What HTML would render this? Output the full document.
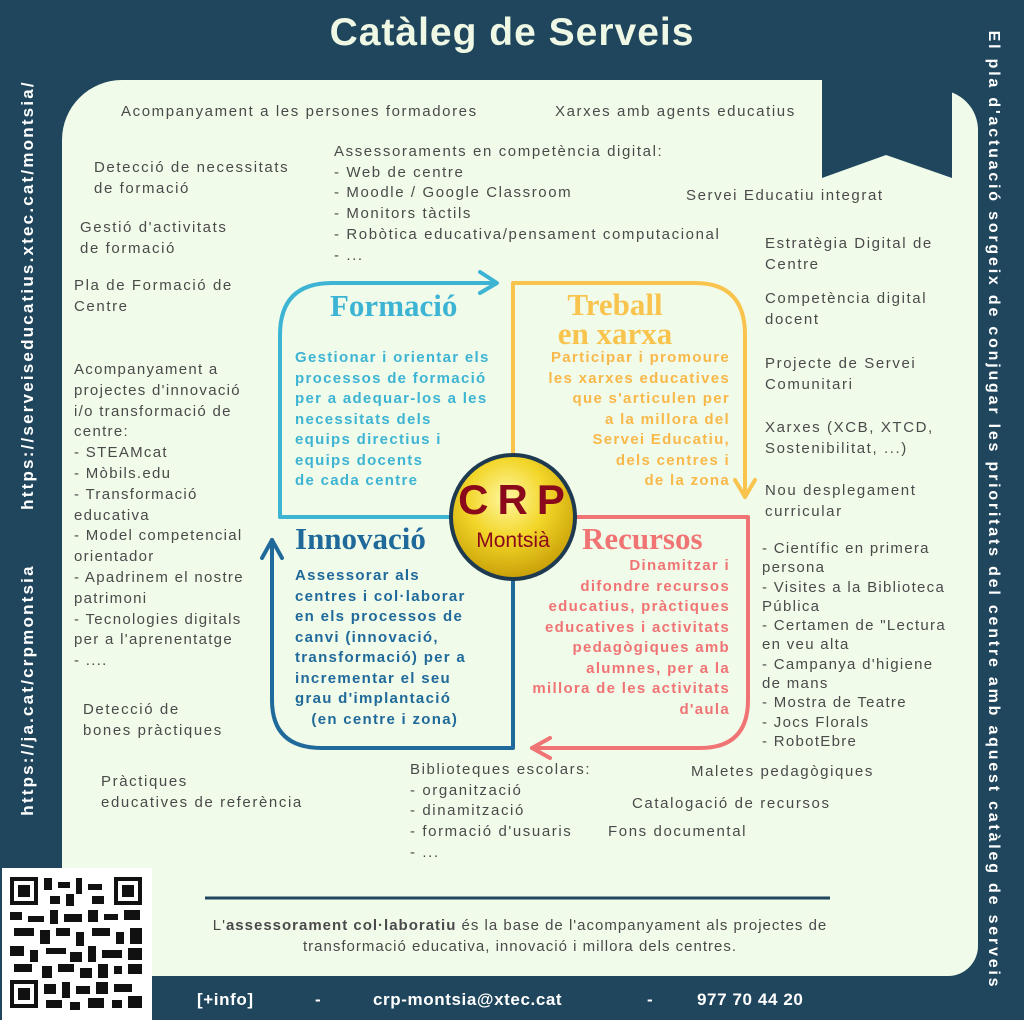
<!DOCTYPE html>
<html><head><meta charset="utf-8"><style>
*{margin:0;padding:0;box-sizing:border-box}
body{width:1024px;height:1020px;background:#1f465d;position:relative;overflow:hidden;font-family:"Liberation Sans",sans-serif}
.t{position:absolute;color:#4a4a4a;font-size:15px;letter-spacing:1.6px;line-height:20.7px;white-space:nowrap}
.h{position:absolute;font-family:"Liberation Serif",serif;font-weight:bold;font-size:31px;line-height:29px;white-space:nowrap}
.b{position:absolute;font-weight:bold;font-size:15px;line-height:20.5px;letter-spacing:1.3px;white-space:nowrap}
</style></head><body>
<div style="position:absolute;left:62px;top:80px;width:916px;height:896px;background:#f1fbea;border-radius:60px 0 30px 0"></div>
<div style="position:absolute;left:950px;top:80px;width:28px;height:60px;background:#1f465d"></div>
<div style="position:absolute;left:900px;top:90px;width:78px;height:80px;background:#f1fbea;border-radius:0 40px 0 0"></div>
<svg style="position:absolute;left:0;top:0" width="1024" height="1020">
<polygon points="822,78 952,78 952,178 886,155 822,178" fill="#1f465d"/>
<rect x="0" y="866" width="62" height="4" fill="#1f465d"/>
<rect x="2" y="868" width="150" height="152" fill="#fff"/>
<rect x="155" y="978" width="869" height="42" fill="#1f465d"/>
<g fill="#111">
<rect x="10" y="877" width="28" height="28"/><rect x="14" y="881" width="20" height="20" fill="#fff"/><rect x="18" y="885" width="12" height="12"/>
<rect x="114" y="877" width="28" height="28"/><rect x="118" y="881" width="20" height="20" fill="#fff"/><rect x="122" y="885" width="12" height="12"/>
<rect x="10" y="980" width="28" height="28"/><rect x="14" y="984" width="20" height="20" fill="#fff"/><rect x="18" y="988" width="12" height="12"/>
<rect x="44" y="878" width="8" height="12"/><rect x="58" y="882" width="12" height="6"/><rect x="76" y="878" width="6" height="16"/><rect x="88" y="884" width="14" height="6"/><rect x="50" y="896" width="10" height="8"/><rect x="66" y="894" width="8" height="12"/><rect x="92" y="896" width="12" height="8"/>
<rect x="10" y="912" width="12" height="8"/><rect x="28" y="916" width="16" height="6"/><rect x="50" y="910" width="8" height="14"/><rect x="64" y="914" width="18" height="8"/><rect x="88" y="910" width="10" height="12"/><rect x="104" y="914" width="14" height="6"/><rect x="124" y="910" width="16" height="10"/>
<rect x="14" y="928" width="20" height="8"/><rect x="40" y="930" width="10" height="14"/><rect x="56" y="928" width="14" height="8"/><rect x="76" y="932" width="8" height="14"/><rect x="92" y="928" width="18" height="8"/><rect x="116" y="932" width="8" height="12"/><rect x="130" y="928" width="12" height="16"/>
<rect x="10" y="946" width="14" height="10"/><rect x="30" y="950" width="8" height="12"/><rect x="46" y="948" width="20" height="6"/><rect x="70" y="952" width="12" height="10"/><rect x="88" y="946" width="8" height="16"/><rect x="102" y="950" width="20" height="8"/><rect x="128" y="948" width="14" height="12"/>
<rect x="14" y="964" width="18" height="8"/><rect x="42" y="966" width="10" height="12"/><rect x="58" y="964" width="16" height="8"/><rect x="80" y="968" width="12" height="10"/><rect x="98" y="964" width="10" height="14"/><rect x="114" y="966" width="8" height="8"/><rect x="128" y="964" width="14" height="10"/>
<rect x="44" y="984" width="12" height="10"/><rect x="62" y="982" width="8" height="16"/><rect x="76" y="986" width="14" height="8"/><rect x="96" y="982" width="12" height="12"/><rect x="114" y="984" width="18" height="8"/><rect x="46" y="1000" width="16" height="8"/><rect x="70" y="1002" width="10" height="8"/><rect x="88" y="998" width="16" height="10"/><rect x="112" y="1000" width="10" height="8"/><rect x="128" y="996" width="14" height="12"/>
</g>
<g fill="none" stroke-width="4" stroke-linecap="round" stroke-linejoin="round">
<path d="M455,517 H280 V335 Q280,283 332,283 H495" stroke="#3db4d3"/>
<path d="M480,272 L497,283 L480,293" stroke="#3db4d3"/>
<path d="M513,490 V283 H695 Q745,283 745,335 V497" stroke="#f8c44e"/>
<path d="M735,480 L745,497 L755,480" stroke="#f8c44e"/>
<path d="M575,517 H748 V700 Q748,748 700,748 H532" stroke="#f07474"/>
<path d="M550,738 L532,748 L550,758" stroke="#f07474"/>
<path d="M513,580 V748 H322 Q272,748 272,700 V540" stroke="#1f6a9a"/>
<path d="M262,558 L272,540 L282,558" stroke="#1f6a9a"/>
</g>
<line x1="205" y1="898" x2="830" y2="898" stroke="#1f465d" stroke-width="3"/>
<defs><radialGradient id="g" cx="45%" cy="35%" r="65%"><stop offset="0" stop-color="#fff7a0"/><stop offset="0.5" stop-color="#f2d628"/><stop offset="1" stop-color="#c9a008"/></radialGradient></defs>
<circle cx="513" cy="517" r="62" fill="url(#g)" stroke="#1e3a50" stroke-width="4"/>
<text x="516" y="514" text-anchor="middle" font-family="Liberation Sans" font-weight="bold" font-size="42" fill="#8a0a1c" letter-spacing="9">CRP</text>
<text x="513" y="547" text-anchor="middle" font-family="Liberation Sans" font-size="21" fill="#8a0a1c">Montsià</text>
<text transform="translate(33,295) rotate(-90)" text-anchor="middle" font-family="Liberation Sans" font-weight="bold" font-size="17" fill="#fff" letter-spacing="2.2">https://serveiseducatius.xtec.cat/montsia/</text>
<text transform="translate(33,690) rotate(-90)" text-anchor="middle" font-family="Liberation Sans" font-weight="bold" font-size="17" fill="#fff" letter-spacing="2.2">https://ja.cat/crpmontsia</text>
<text transform="translate(989,510) rotate(90)" text-anchor="middle" font-family="Liberation Sans" font-weight="bold" font-size="16" fill="#fff" letter-spacing="2.8">El pla d'actuació sorgeix de conjugar les prioritats del centre amb aquest catàleg de serveis</text>
</svg>
<div style="position:absolute;left:0;width:1024px;top:11px;text-align:center;color:#eef8e4;font-weight:bold;font-size:39px;letter-spacing:1px">Catàleg de Serveis</div>

<div class="t" style="left:121px;top:102px">Acompanyament a les persones formadores</div>
<div class="t" style="left:555px;top:102px">Xarxes amb agents educatius</div>
<div class="t" style="left:94px;top:158px">Detecció de necessitats<br>de formació</div>
<div class="t" style="left:334px;top:142px">Assessoraments en competència digital:<br>- Web de centre<br>- Moodle / Google Classroom<br>- Monitors tàctils<br>- Robòtica educativa/pensament computacional<br>- ...</div>
<div class="t" style="left:686px;top:186px">Servei Educatiu integrat</div>
<div class="t" style="left:80px;top:218px">Gestió d'activitats<br>de formació</div>
<div class="t" style="left:765px;top:234px">Estratègia Digital de<br>Centre</div>
<div class="t" style="left:74px;top:276px">Pla de Formació de<br>Centre</div>
<div class="t" style="left:765px;top:289px">Competència digital<br>docent</div>
<div class="t" style="left:74px;top:360px;line-height:20.8px;letter-spacing:1.3px">Acompanyament a<br>projectes d'innovació<br>i/o transformació de<br>centre:<br>- STEAMcat<br>- Mòbils.edu<br>- Transformació<br>educativa<br>- Model competencial<br>orientador<br>- Apadrinem el nostre<br>patrimoni<br>- Tecnologies digitals<br>per a l'aprenentatge<br>- ....</div>
<div class="t" style="left:765px;top:354px">Projecte de Servei<br>Comunitari</div>
<div class="t" style="left:765px;top:418px">Xarxes (XCB, XTCD,<br>Sostenibilitat, ...)</div>
<div class="t" style="left:765px;top:481px">Nou desplegament<br>curricular</div>
<div class="t" style="left:762px;top:539px;line-height:19.3px;letter-spacing:1.3px">- Científic en primera<br>persona<br>- Visites a la Biblioteca<br>Pública<br>- Certamen de "Lectura<br>en veu alta<br>- Campanya d'higiene<br>de mans<br>- Mostra de Teatre<br>- Jocs Florals<br>- RobotEbre</div>
<div class="t" style="left:83px;top:700px">Detecció de<br>bones pràctiques</div>
<div class="t" style="left:101px;top:772px">Pràctiques<br>educatives de referència</div>
<div class="t" style="left:410px;top:760px">Biblioteques escolars:<br>- organització<br>- dinamització<br>- formació d'usuaris<br>- ...</div>
<div class="t" style="left:691px;top:762px">Maletes pedagògiques</div>
<div class="t" style="left:632px;top:794px">Catalogació de recursos</div>
<div class="t" style="left:608px;top:822px">Fons documental</div>
<div class="t" style="left:140px;width:760px;top:915px;text-align:center;white-space:normal;line-height:21px;letter-spacing:1px">L'<b>assessorament col·laboratiu</b> és la base de l'acompanyament als projectes de<br>transformació educativa, innovació i millora dels centres.</div>

<div class="h" style="left:330px;top:291px;color:#3db4d3">Formació</div>
<div class="h" style="left:535px;top:290px;width:160px;text-align:center;color:#f8c44e">Treball<br>en xarxa</div>
<div class="h" style="left:295px;top:524px;color:#1f6a9a">Innovació</div>
<div class="h" style="left:582px;top:524px;color:#f07474">Recursos</div>

<div class="b" style="left:295px;top:348px;color:#3db4d3">Gestionar i orientar els<br>processos de formació<br>per a adequar-los a les<br>necessitats dels<br>equips directius i<br>equips docents<br>de cada centre</div>
<div class="b" style="left:520px;width:210px;top:348px;color:#f8b84a;text-align:right">Participar i promoure<br>les xarxes educatives<br>que s'articulen per<br>a la millora del<br>Servei Educatiu,<br>dels centres i<br>de la zona</div>
<div class="b" style="left:295px;top:566px;color:#1f6a9a">Assessorar als<br>centres i col·laborar<br>en els processos de<br>canvi (innovació,<br>transformació) per a<br>incrementar el seu<br>grau d'implantació<br>&nbsp;&nbsp;&nbsp;(en centre i zona)</div>
<div class="b" style="left:490px;width:240px;top:556px;color:#f07474;text-align:right">Dinamitzar i<br>difondre recursos<br>educatius, pràctiques<br>educatives i activitats<br>pedagògiques amb<br>alumnes, per a la<br>millora de les activitats<br>d'aula</div>

<div style="position:absolute;top:990px;left:0;color:#fff;font-weight:bold;font-size:17px;letter-spacing:0.6px;white-space:nowrap">
<span style="position:absolute;left:197px">[+info]</span>
<span style="position:absolute;left:315px">-</span>
<span style="position:absolute;left:373px">crp-montsia@xtec.cat</span>
<span style="position:absolute;left:647px">-</span>
<span style="position:absolute;left:697px">977 70 44 20</span>
</div>
</body></html>
